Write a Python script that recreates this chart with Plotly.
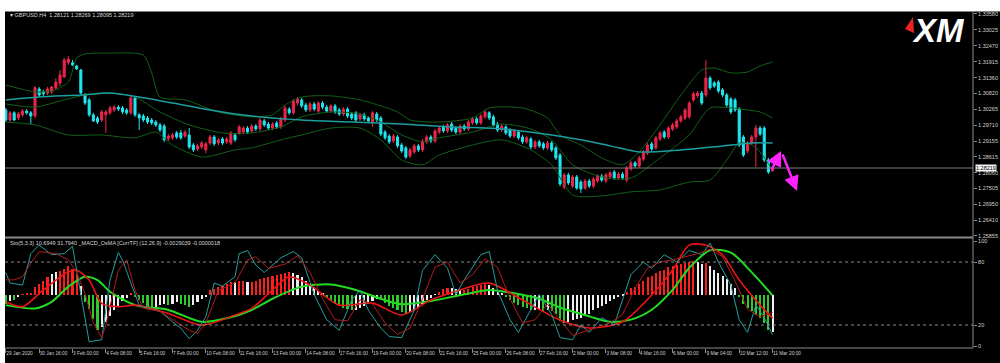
import plotly.graph_objects as go

# ---------------- data ----------------
bar_index = list(range(185))
x_tick_bars = list(range(0, 185, 8))
x_tick_labels = ["29 Jan 2020", "30 Jan 16:00", "3 Feb 00:00", "4 Feb 08:00", "5 Feb 16:00",
                 "7 Feb 00:00", "10 Feb 08:00", "11 Feb 16:00", "13 Feb 00:00", "14 Feb 08:00",
                 "17 Feb 16:00", "19 Feb 00:00", "20 Feb 08:00", "21 Feb 16:00", "25 Feb 00:00",
                 "26 Feb 08:00", "27 Feb 16:00", "2 Mar 00:00", "3 Mar 08:00", "4 Mar 16:00",
                 "6 Mar 00:00", "9 Mar 04:00", "10 Mar 12:00", "11 Mar 20:00"]
price_ticks = [1.33580, 1.33025, 1.32470, 1.31915, 1.31360, 1.30820, 1.30265, 1.29710,
               1.29155, 1.28615, 1.28060, 1.27505, 1.26950, 1.26410, 1.25855]
osc_ticks = [100, 80, 20, 0]
osc_levels = [80, 20]
last_price = 1.28219

opens = [1.3024,1.2989,1.3014,1.2996,1.3007,1.3020,1.3014,1.3003,1.3097,1.3087,
1.3083,1.3087,1.3101,1.3118,1.3139,1.3188,1.3188,1.3177,1.3163,1.3076,
1.3059,1.3007,1.2996,1.2989,1.3007,1.3014,1.3024,1.3034,1.3031,1.3024,
1.3014,1.3066,1.3007,1.3003,1.2996,1.2989,1.2982,1.2972,1.2968,1.2923,
1.2927,1.2944,1.2944,1.2933,1.2937,1.2902,1.2888,1.2895,1.2885,1.2909,
1.2930,1.2909,1.2923,1.2913,1.2909,1.2937,1.2944,1.2947,1.2961,1.2951,
1.2968,1.2958,1.2986,1.2975,1.2961,1.2979,1.2965,1.2989,1.3027,1.3014,
1.3048,1.3059,1.3041,1.3024,1.3045,1.3020,1.3048,1.3034,1.3020,1.3038,
1.3024,1.3010,1.3027,1.3010,1.3014,1.2993,1.3007,1.2996,1.2982,1.3010,
1.2996,1.2947,1.2933,1.2916,1.2930,1.2902,1.2892,1.2864,1.2878,1.2899,
1.2885,1.2913,1.2930,1.2916,1.2947,1.2965,1.2951,1.2975,1.2961,1.2947,
1.2968,1.2958,1.2979,1.2993,1.2979,1.3000,1.3014,1.3000,1.2975,1.2954,
1.2965,1.2954,1.2933,1.2947,1.2930,1.2913,1.2923,1.2895,1.2913,1.2906,
1.2892,1.2909,1.2892,1.2867,1.2756,1.2798,1.2759,1.2791,1.2773,1.2752,
1.2777,1.2759,1.2777,1.2794,1.2777,1.2791,1.2808,1.2787,1.2801,1.2780,
1.2819,1.2840,1.2829,1.2853,1.2874,1.2906,1.2892,1.2923,1.2947,1.2930,
1.2958,1.2965,1.2986,1.2996,1.3000,1.3059,1.3073,1.3083,1.3076,1.3135,
1.3118,1.3121,1.3094,1.3076,1.3062,1.3059,1.3027,1.2930,1.2881,1.2909,
1.2930,1.2961,1.2961,1.2850,1.28121]

closes = [1.2989,1.3014,1.2989,1.3010,1.3020,1.3014,1.3003,1.3101,1.3076,1.3080,
1.3097,1.3104,1.3121,1.3146,1.3198,1.3201,1.3181,1.3167,1.3083,1.3048,
1.3007,1.2986,1.2982,1.3017,1.3017,1.3031,1.3034,1.3027,1.3017,1.3014,
1.3066,1.3007,1.2996,1.2989,1.2982,1.2979,1.2972,1.2954,1.2920,1.2933,
1.2937,1.2930,1.2927,1.2947,1.2895,1.2885,1.2899,1.2909,1.2906,1.2930,
1.2906,1.2920,1.2909,1.2923,1.2944,1.2920,1.2965,1.2961,1.2947,1.2968,
1.2958,1.2989,1.2972,1.2961,1.2975,1.2965,1.2993,1.3031,1.3014,1.3055,
1.3062,1.3038,1.3024,1.3045,1.3027,1.3048,1.3034,1.3020,1.3038,1.3017,
1.3010,1.3027,1.3003,1.2996,1.2989,1.3007,1.2993,1.2986,1.3014,1.2989,
1.2940,1.2927,1.2913,1.2933,1.2899,1.2881,1.2860,1.2885,1.2899,1.2885,
1.2916,1.2930,1.2916,1.2951,1.2961,1.2951,1.2972,1.2954,1.2947,1.2968,
1.2958,1.2982,1.2993,1.2979,1.3003,1.3017,1.2996,1.2972,1.2954,1.2968,
1.2944,1.2933,1.2951,1.2927,1.2913,1.2927,1.2895,1.2913,1.2899,1.2892,
1.2909,1.2885,1.2857,1.2766,1.2798,1.2770,1.2791,1.2752,1.2749,1.2777,
1.2759,1.2784,1.2794,1.2780,1.2798,1.2805,1.2787,1.2801,1.2787,1.2822,
1.2840,1.2829,1.2857,1.2878,1.2902,1.2888,1.2927,1.2944,1.2930,1.2961,
1.2972,1.2986,1.3000,1.3024,1.3048,1.3080,1.3083,1.3048,1.3135,1.3101,
1.3107,1.3090,1.3076,1.3041,1.3017,1.3024,1.2902,1.2867,1.2909,1.2930,
1.2961,1.2940,1.2850,1.2808,1.28219]

highs = [1.3031,1.3020,1.3020,1.3017,1.3027,1.3027,1.3020,1.3107,1.3104,1.3094,
1.3104,1.3107,1.3135,1.3163,1.3205,1.3212,1.3198,1.3181,1.3167,1.3083,
1.3066,1.3014,1.3003,1.3024,1.3024,1.3038,1.3041,1.3041,1.3038,1.3031,
1.3073,1.3073,1.3014,1.3010,1.3003,1.2996,1.2989,1.2979,1.2975,1.2940,
1.2944,1.2951,1.2954,1.2954,1.2961,1.2909,1.2906,1.2916,1.2913,1.2937,
1.2937,1.2927,1.2930,1.2930,1.2951,1.2944,1.2972,1.2968,1.2968,1.2975,
1.2975,1.2996,1.2993,1.2982,1.2982,1.2986,1.3000,1.3038,1.3034,1.3062,
1.3069,1.3066,1.3048,1.3052,1.3052,1.3055,1.3055,1.3041,1.3045,1.3045,
1.3031,1.3034,1.3034,1.3017,1.3020,1.3014,1.3014,1.3003,1.3020,1.3017,
1.3003,1.2954,1.2940,1.2940,1.2937,1.2909,1.2899,1.2892,1.2906,1.2906,
1.2923,1.2937,1.2937,1.2958,1.2968,1.2972,1.2979,1.2982,1.2968,1.2975,
1.2975,1.2989,1.3000,1.3000,1.3010,1.3024,1.3020,1.3007,1.2982,1.2975,
1.2972,1.2961,1.2958,1.2954,1.2937,1.2933,1.2930,1.2920,1.2920,1.2913,
1.2916,1.2916,1.2899,1.2874,1.2805,1.2805,1.2798,1.2798,1.2780,1.2784,
1.2784,1.2791,1.2801,1.2801,1.2805,1.2812,1.2815,1.2808,1.2808,1.2829,
1.2846,1.2846,1.2864,1.2885,1.2909,1.2913,1.2933,1.2951,1.2954,1.2968,
1.2979,1.2993,1.3007,1.3031,1.3055,1.3087,1.3090,1.3090,1.3198,1.3142,
1.3125,1.3128,1.3101,1.3083,1.3069,1.3066,1.3034,1.2937,1.2916,1.2937,
1.2972,1.2968,1.2968,1.2857,1.28269]

lows = [1.2982,1.2982,1.2986,1.2989,1.3000,1.3007,1.2975,1.2996,1.3069,1.3073,
1.3076,1.3080,1.3094,1.3107,1.3135,1.3181,1.3177,1.3163,1.3076,1.3041,
1.3000,1.2982,1.2975,1.2982,1.2944,1.3007,1.3017,1.3020,1.3010,1.3007,
1.3007,1.3000,1.2954,1.2982,1.2975,1.2972,1.2965,1.2947,1.2913,1.2916,
1.2920,1.2923,1.2920,1.2927,1.2888,1.2878,1.2881,1.2888,1.2874,1.2902,
1.2899,1.2902,1.2902,1.2906,1.2902,1.2913,1.2937,1.2940,1.2940,1.2944,
1.2951,1.2951,1.2965,1.2954,1.2954,1.2958,1.2958,1.2982,1.3007,1.3007,
1.3041,1.3031,1.3017,1.3017,1.3020,1.3014,1.3027,1.3014,1.3014,1.3010,
1.3003,1.3003,1.2996,1.2989,1.2982,1.2986,1.2986,1.2979,1.2965,1.2982,
1.2933,1.2920,1.2906,1.2909,1.2892,1.2874,1.2853,1.2857,1.2871,1.2878,
1.2878,1.2906,1.2909,1.2909,1.2940,1.2944,1.2944,1.2947,1.2940,1.2940,
1.2951,1.2951,1.2972,1.2972,1.2972,1.2993,1.2989,1.2965,1.2947,1.2947,
1.2937,1.2927,1.2927,1.2920,1.2906,1.2906,1.2888,1.2888,1.2892,1.2885,
1.2885,1.2878,1.2850,1.2759,1.2749,1.2763,1.2752,1.2746,1.2735,1.2746,
1.2752,1.2752,1.2770,1.2773,1.2770,1.2784,1.2780,1.2780,1.2780,1.2773,
1.2812,1.2822,1.2822,1.2846,1.2867,1.2881,1.2885,1.2916,1.2923,1.2923,
1.2951,1.2958,1.2979,1.2989,1.2993,1.3052,1.3066,1.3041,1.3069,1.3094,
1.3101,1.3083,1.3069,1.3034,1.3010,1.3017,1.2895,1.2860,1.2874,1.2902,
1.2826,1.2933,1.2843,1.2801,1.28095]

# Bollinger bands (dark green) and moving average (teal), read at sampled bars
band_up_bar = [0,7,11,15,17,19,25,33,35,37,43,51,59,64,67,71,78,85,90,94,97,104,112,116,124,
               130,133,138,143,148,152,157,162,167,170,174,178,181,184]
band_up = [1.3111,1.3087,1.3090,1.3121,1.3205,1.3219,1.3222,1.3215,1.3153,1.3069,
           1.3059,1.3017,1.3000,1.3007,1.3041,1.3069,1.3073,1.3059,1.3038,1.3017,
           1.2989,1.2982,1.2996,1.3031,1.3031,1.2996,1.2937,1.2902,1.2857,1.2833,
           1.2878,1.2972,1.3076,1.3163,1.3170,1.3153,1.3156,1.3177,1.3191]
band_mid_bar = [0,7,14,19,25,31,37,44,52,59,66,71,78,85,90,95,100,104,112,119,126,131,136,
                143,150,157,164,169,174,178,181,184]
band_mid = [1.3045,1.3034,1.3059,1.3076,1.3083,1.3069,1.3017,1.2972,1.2944,1.2944,
            1.2965,1.3000,1.3017,1.3010,1.2982,1.2937,1.2913,1.2927,1.2947,1.2975,
            1.2958,1.2920,1.2833,1.2791,1.2787,1.2857,1.2937,1.3031,1.3031,1.3024,
            1.3017,1.2996]
band_lo_bar = [0,7,15,23,31,36,40,47,55,59,66,71,78,85,90,95,100,104,112,119,126,131,136,
               143,150,157,164,169,173,176,179,181,184]
band_lo = [1.2982,1.2972,1.2937,1.2937,1.2927,1.2947,1.2902,1.2860,1.2885,1.2892,
           1.2920,1.2937,1.2961,1.2961,1.2920,1.2850,1.2833,1.2867,1.2902,1.2920,
           1.2885,1.2833,1.2728,1.2725,1.2739,1.2746,1.2773,1.2780,1.2850,1.2909,
           1.2902,1.2878,1.2815]
ma_bar = [0,8,18,25,32,40,49,59,71,83,95,107,119,131,138,145,152,162,172,179,184]
ma_val = [1.3059,1.3069,1.3076,1.3083,1.3069,1.3048,1.3024,1.3003,1.2989,1.2982,
          1.2975,1.2965,1.2958,1.2937,1.2920,1.2899,1.2878,1.2885,1.2899,1.2909,1.2909]

# Stochastic (5,3,3)
stoch_k_bar = [0,1,4,6,8,11,14,16,17,19,20,23,25,27,28,30,32,34,37,40,42,44,46,48,50,52,55,56,58,
               60,62,66,69,71,74,77,80,83,85,87,90,92,95,98,100,103,106,108,110,114,116,118,121,
               123,126,128,131,133,136,138,140,143,146,148,150,153,155,158,161,164,167,169,171,
               174,176,178,180,182,184]
stoch_k = [70,60,58,88,96,87,88,95,72,28,4,6,63,89,82,60,39,36,33,23,17,7,15,28,60,57,66,88,91,
           77,70,84,90,84,49,25,15,44,53,34,17,9,8,34,72,87,74,49,63,87,90,53,25,13,34,49,30,8,6,
           20,13,27,20,44,68,80,74,87,80,91,87,98,80,58,25,13,39,27,10.69]
stoch_d_bar = [0,2,4,6,8,12,15,17,19,21,23,24,27,29,31,33,37,40,44,46,48,51,55,58,
               60,63,67,70,73,76,79,82,85,88,91,94,97,100,103,106,109,112,115,118,121,124,127,
               130,133,136,139,142,145,148,151,154,157,160,163,166,169,172,175,178,181,184]
stoch_d = [63,63,66,79,90,88,82,70,50,22,8,20,72,82,53,36,33,25,15,12,22,53,60,82,
           85,74,78,86,70,45,25,24,44,40,22,11,17,45,75,80,60,68,83,75,45,22,25,40,25,10,14,
           18,22,30,55,74,80,82,85,88,92,85,62,35,28,31.79]

# MACD OsMA (12,26,9) in units of 0.0001
macd_bar = [0,4,9,15,17,20,23,27,31,39,47,55,59,64,68,73,80,88,95,102,109,116,124,133,140,
            148,155,160,164,168,172,176,181,184]
macd_main = [-3.4,-5.6,2,10.3,11,6.5,-4.1,-5.6,-4.9,-8.7,-14,-9.4,-6.4,2,8,4.2,-4.9,-4,-9.4,
             -2.6,2,5.1,-2.6,-11.7,-15.3,-12.5,-0.3,11,22.4,22.4,17.9,6.5,-4.9,-10.8]
signal_bar = [0,7,11,15,19,22,25,31,39,47,53,59,64,71,78,84,90,95,102,110,116,122,128,133,140,
              145,150,155,160,164,169,174,179,184]
macd_signal = [-4.9,-6.4,-3.4,3.5,8,6.5,1.2,-4.9,-7.1,-12.5,-10.9,-7.1,-2,3.5,4.5,2,-2,-4.5,-3,
               0,2,0.5,-2,-6,-10,-12.5,-11.5,-7,2,12,20,19,10,-0.5]
osma = [-4,-3,-2.5,-1,0.3,0.5,1,3.5,5,6.5,
        8,9.5,10.3,11,11.8,13.3,11.8,9.5,4,-3.3,
        -6.4,-10.9,-16.2,-14.7,-12.4,-9.4,-7.1,-5,-3,-1.5,
        0.5,-1,-2.5,-3.5,-5.6,-6.4,-5.6,-4.8,-4,-4.8,
        -4,-3.3,-4,-4.8,-5.6,-4.8,-3.3,-1.8,-1,2,
        2.7,3.5,4.2,5,5.8,5.8,6.5,6.5,5.8,6,
        6.5,7,7.5,8,8.5,9,9.5,10,10.5,10,
        9,8,6.5,5,3.5,2,0.5,-1,-2.5,-4,
        -5,-6,-6.5,-7,-7,-6,-5,-4,-3,-2,
        -2.5,-3.5,-5,-6,-7,-8,-8.5,-8,-7,-5.5,
        -4,-2.5,-1.5,0.3,1.5,2.5,3,3,2.5,2,
        2,2.5,3.5,4,4.5,5,4.5,3,1.5,0.5,
        -1,-2.5,-3.5,-4.5,-5.5,-6,-7,-7,-7,-7.5,
        -7,-7.5,-8.5,-12,-13,-12.5,-11.5,-11,-10.5,-9.5,
        -8.5,-7,-6,-5,-4,-3,-2,-1,-0.3,1.5,
        3,3.5,5,6.5,8,8.5,10,11,11.5,12.5,
        13,13.5,14,14.5,15,15.5,15,14,14.5,13,
        11.5,10,8.5,7,5,3,-1,-4,-6,-7.5,
        -9,-10.5,-13,-16,-17]
osma_state = list("gwgwrrrrrr" "rwwrrrrrwg" "gggwwwwwww" "rgggggwwwg" "wwgggwwwwr"
                  "rrrrrwrrwr" "rrrrrrrrrw" "wwwwwwwggg" "ggggwwwwww" "gggggggwww"
                  "wwwwrrrwww" "rrrrrrwwww" "gggggggwwg" "wggggwwwww" "wwwwwwwwwr"
                  "rrrrrrrrrr" "rrrrrrwwrw" "wwwwwwgggg" "ggggw")

# ---------------- layout geometry ----------------
W, H = 1000, 363
ML, MR, MT, MB = 5, 27, 12, 15
PW, PH = W - ML - MR, H - MT - MB


def fx(px):
    return (px - ML) / PW


def fy(py):
    return (H - MB - py) / PH


state_colors = {"r": "#ff1e1e", "w": "#eeeeee", "g": "#2ccc2c"}
FONT = "Liberation Sans, Arial, sans-serif"

fig = go.Figure()

# ---- top panel ----
fig.add_trace(go.Candlestick(
    x=bar_index, open=opens, high=highs, low=lows, close=closes,
    increasing=dict(line=dict(color="#f0264c", width=1), fillcolor="#e8234a"),
    decreasing=dict(line=dict(color="#1ee8f2", width=1), fillcolor="#1ee8f2"),
    whiskerwidth=0, xaxis="x", yaxis="y"))
for bx, by in [(band_up_bar, band_up), (band_mid_bar, band_mid), (band_lo_bar, band_lo)]:
    fig.add_trace(go.Scatter(x=bx, y=by, mode="lines", xaxis="x", yaxis="y",
                             line=dict(color="#12621a", width=1, shape="spline", smoothing=0.7)))
fig.add_trace(go.Scatter(x=ma_bar, y=ma_val, mode="lines", xaxis="x", yaxis="y",
                         line=dict(color="#1b9e9e", width=1.5, shape="spline", smoothing=0.8)))

# ---- bottom panel ----
fig.add_trace(go.Bar(x=bar_index, y=osma, xaxis="x", yaxis="y2", width=0.5,
                     marker=dict(color=[state_colors[s] for s in osma_state], line=dict(width=0))))
fig.add_trace(go.Scatter(x=signal_bar, y=macd_signal, mode="lines", xaxis="x", yaxis="y2",
                         line=dict(color="#22dd22", width=2, shape="spline", smoothing=0.8)))
fig.add_trace(go.Scatter(x=macd_bar, y=macd_main, mode="lines", xaxis="x", yaxis="y2",
                         line=dict(color="#ee1414", width=1.6, shape="spline", smoothing=0.8)))
fig.add_trace(go.Scatter(x=stoch_k_bar, y=stoch_k, mode="lines", xaxis="x", yaxis="y3",
                         line=dict(color="#259e9e", width=1)))
fig.add_trace(go.Scatter(x=stoch_d_bar, y=stoch_d, mode="lines", xaxis="x", yaxis="y3",
                         line=dict(color="#b41a1a", width=1)))

tick_font = dict(family=FONT, size=5.5, color="#d0d0d0")
xtick_font = dict(family=FONT, size=4.8, color="#d0d0d0")
fig.update_layout(
    width=W, height=H, margin=dict(l=ML, r=MR, t=MT, b=MB),
    paper_bgcolor="black", plot_bgcolor="black", showlegend=False, hovermode=False,
    bargap=0,
    xaxis=dict(domain=[0, 1], anchor="y2", range=[-0.2, -0.2 + PW / 4.167],
               tickvals=x_tick_bars, ticktext=x_tick_labels, ticks="outside", ticklen=4,
               tickcolor="#8a8a8a", ticklabelposition="outside right", tickangle=0,
               tickfont=xtick_font, showgrid=False, zeroline=False, showline=False,
               automargin=False, rangeslider=dict(visible=False)),
    yaxis=dict(domain=[fy(237), 1], anchor="x", side="right",
               range=[1.25819, 1.33649], tickvals=price_ticks,
               ticktext=[f"{v:.5f}" for v in price_ticks], ticks="outside", ticklen=3,
               tickcolor="#8a8a8a", tickfont=tick_font, showgrid=False, zeroline=False,
               automargin=False),
    yaxis2=dict(domain=[0, fy(238.5)], anchor="x", range=[-24.4, 25.4], visible=False,
                showgrid=False, zeroline=False),
    yaxis3=dict(overlaying="y2", anchor="x", side="right", range=[-1.9, 102.4],
                tickvals=osc_ticks, ticktext=[str(v) for v in osc_ticks], ticks="outside",
                ticklen=3, tickcolor="#8a8a8a", tickfont=tick_font, showgrid=False,
                zeroline=False, automargin=False),
)

shapes = []
# current price line
shapes.append(dict(type="line", xref="paper", yref="y", x0=0, x1=1, y0=last_price, y1=last_price,
                   line=dict(color="#7c7c7c", width=1)))
# oscillator levels
for lv in osc_levels:
    shapes.append(dict(type="line", xref="paper", yref="y3", x0=0, x1=1, y0=lv, y1=lv,
                       line=dict(color="#8a8a8a", width=1, dash="dot")))
# frame
shapes.append(dict(type="line", xref="paper", yref="paper", x0=1, x1=1, y0=0, y1=1,
                   line=dict(color="#8a8a8a", width=1)))
shapes.append(dict(type="line", xref="paper", yref="paper", x0=0, x1=1.0, y0=fy(237.6), y1=fy(237.6),
                   line=dict(color="#8a8a8a", width=2)))
shapes.append(dict(type="line", xref="paper", yref="paper", x0=0, x1=1, y0=0, y1=0,
                   line=dict(color="#8a8a8a", width=1)))
# white page edges (top and left)
shapes.append(dict(type="rect", xref="paper", yref="paper", x0=fx(-2), x1=fx(1002), y0=fy(11.5),
                   y1=fy(-2), fillcolor="white", line=dict(width=0), layer="above"))
shapes.append(dict(type="rect", xref="paper", yref="paper", x0=fx(-2), x1=fx(5), y0=fy(365),
                   y1=fy(-2), fillcolor="white", line=dict(width=0), layer="above"))
# XM logo red wedge
shapes.append(dict(type="path", xref="paper", yref="paper",
                   path=f"M {fx(913)},{fy(17)} L {fx(905)},{fy(29)} L {fx(914)},{fy(33)} Z",
                   fillcolor="#ee2222", line=dict(width=0)))
fig.update_layout(shapes=shapes)

label_font = dict(family=FONT, size=5.5, color="#d8d8d8")
fig.add_annotation(x=fx(8), y=fy(15.5), xref="paper", yref="paper", xanchor="left",
                   yanchor="middle", showarrow=False, font=label_font,
                   text="▾ GBPUSD,H4  1.28121 1.28269 1.28095 1.28219")
fig.add_annotation(x=fx(8), y=fy(243), xref="paper", yref="paper", xanchor="left",
                   yanchor="middle", showarrow=False, font=label_font,
                   text="Sto(5,3,3) 10.6949 31.7940 _MACD_OsMA [CurrTF] (12,26,9) -0.0029039 -0.0000018")
fig.add_annotation(x=fx(938), y=fy(30), xref="paper", yref="paper", xanchor="center",
                   yanchor="middle", showarrow=False,
                   font=dict(family=FONT, size=33, color="white"), text="<b><i>XM</i></b>")
fig.add_annotation(x=fx(975), y=last_price, xref="paper", yref="y", xanchor="left",
                   yanchor="middle", showarrow=False, bgcolor="#f2f2f2", borderpad=0,
                   font=dict(family=FONT, size=5.5, color="black"), text=f"{last_price:.5f}")
# magenta arrows
fig.add_annotation(x=fx(781), y=fy(151), xref="paper", yref="paper", ax=-10, ay=20,
                   showarrow=True, arrowhead=2, arrowsize=1.2, arrowwidth=2.5,
                   arrowcolor="#ff22ff", text="")
fig.add_annotation(x=fx(797), y=fy(191), xref="paper", yref="paper", ax=-15, ay=-38,
                   showarrow=True, arrowhead=2, arrowsize=1.2, arrowwidth=2.5,
                   arrowcolor="#ff22ff", text="")

fig.write_html("out.html", config={"displayModeBar": False},
               post_script="document.body.style.margin='0';document.body.style.overflow='hidden';")
